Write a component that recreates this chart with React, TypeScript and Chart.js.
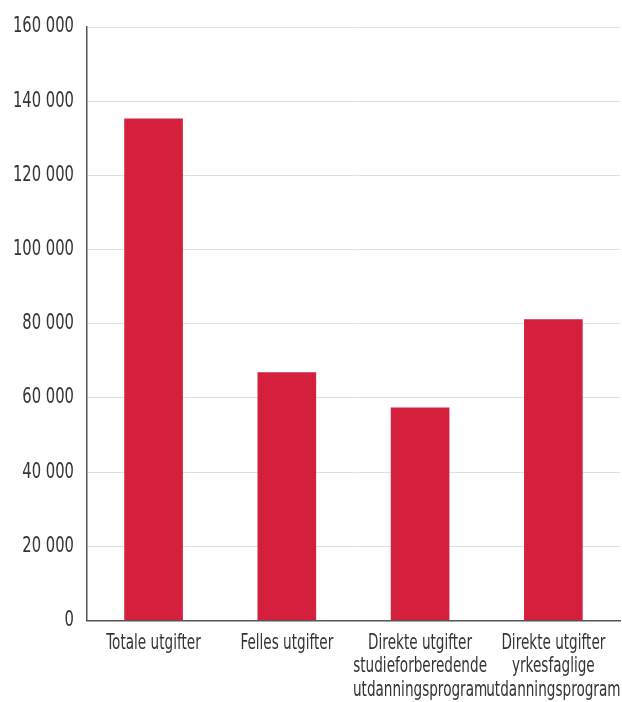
import React, { useEffect, useRef } from "react";
import { Chart, registerables } from "chart.js";

Chart.register(...registerables);

const categories: string[][] = [
  ["Totale utgifter"],
  ["Felles utgifter"],
  ["Direkte utgifter", "studieforberedende", "utdanningsprogram"],
  ["Direkte utgifter", "yrkesfaglige", "utdanningsprogram"],
];
const values: number[] = [135300, 66900, 57400, 81200];
const yMin = 0;
const yMax = 160000;
const yStep = 20000;

const FONT_Y = "'DejaVu Sans Condensed', serif";
const FONT_X = "'DejaVu Sans Condensed', sans-serif";
const NARROW_Y = 0.78;
const NARROW_X = 0.72;

function narrowText(ctx: any) {
  if (!ctx || ctx.__narrow) return;
  ctx.__narrow = true;
  const factor = () => (String(ctx.font).includes("sans-serif") ? NARROW_X : NARROW_Y);
  const origFill = ctx.fillText.bind(ctx);
  const origMeasure = ctx.measureText.bind(ctx);
  ctx.fillText = (text: string, x: number, y: number) => {
    const s = factor();
    ctx.save();
    ctx.translate(x, y);
    ctx.scale(s, 1);
    origFill(text, 0, 0);
    ctx.restore();
  };
  ctx.measureText = (text: string) => {
    const s = factor();
    const m = origMeasure(text);
    return {
      width: m.width * s,
      actualBoundingBoxAscent: m.actualBoundingBoxAscent,
      actualBoundingBoxDescent: m.actualBoundingBoxDescent,
      actualBoundingBoxLeft: m.actualBoundingBoxLeft * s,
      actualBoundingBoxRight: m.actualBoundingBoxRight * s,
      fontBoundingBoxAscent: m.fontBoundingBoxAscent,
      fontBoundingBoxDescent: m.fontBoundingBoxDescent,
    };
  };
}

export default function App() {
  const ref = useRef<HTMLCanvasElement>(null);
  useEffect(() => {
    if (!ref.current) return;
    narrowText(ref.current.getContext("2d"));
    const chart = new Chart(ref.current, {
      type: "bar",
      data: {
        labels: categories,
        datasets: [
          {
            data: values,
            backgroundColor: "#d41f3d",
            categoryPercentage: 1,
            barPercentage: 0.44,
          },
        ],
      },
      options: {
        animation: false,
        responsive: false,
        layout: { padding: { top: 27, right: 2, left: 0, bottom: -11 } },
        plugins: { legend: { display: false }, tooltip: { enabled: false } },
        scales: {
          x: {
            afterFit: (scale: any) => {
              scale.paddingLeft = 0;
              scale.paddingRight = 0;
            },
            grid: { display: false, drawTicks: false },
            border: { color: "#555", width: 1.5 },
            ticks: {
              color: "#333",
              font: { family: FONT_X, size: 21, lineHeight: 1.12 },
              padding: 11,
              maxRotation: 0,
              autoSkip: false,
            },
          },
          y: {
            min: yMin,
            max: yMax,
            grid: { color: "#e0e0e0", drawTicks: false },
            border: { color: "#555", width: 1.5 },
            ticks: {
              stepSize: yStep,
              color: "#333",
              font: { family: FONT_Y, size: 21, lineHeight: 0.5 },
              padding: 13,
              callback: (v: any) =>
                Number(v).toString().replace(/\B(?=(\d{3})+(?!\d))/g, " "),
            },
          },
        },
      },
    });
    return () => chart.destroy();
  }, []);
  return (
    <div style={{ position: "absolute", left: 0, top: 0, width: 622, height: 702 }}>
      <canvas ref={ref} width={622} height={702} style={{ width: 622, height: 702 }} />
    </div>
  );
}
